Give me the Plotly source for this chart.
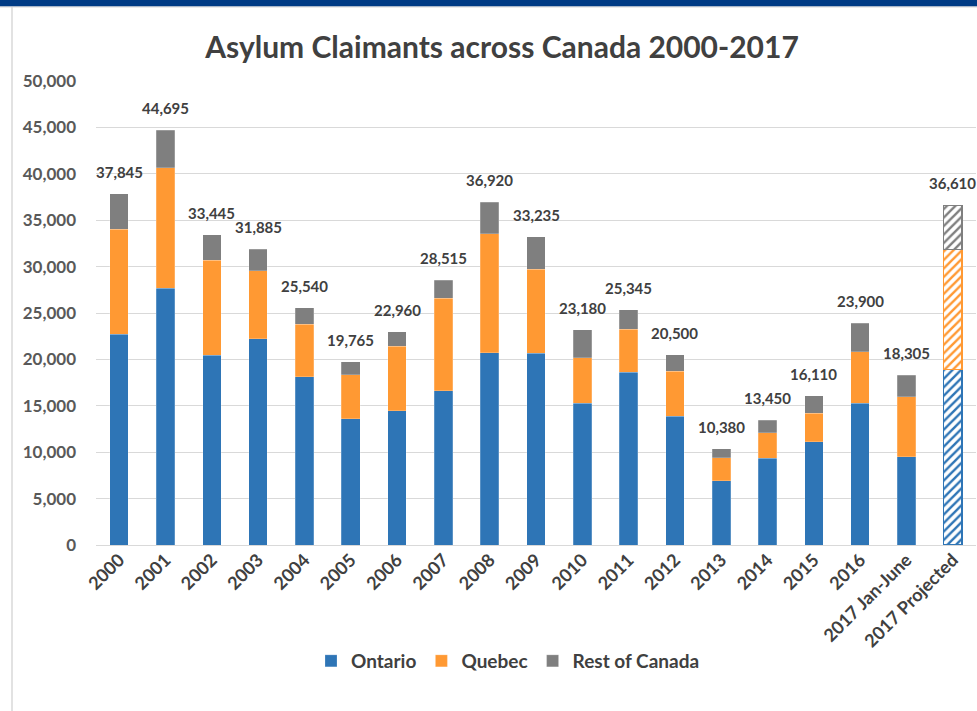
import plotly.graph_objects as go

categories = ["2000", "2001", "2002", "2003", "2004", "2005", "2006", "2007", "2008",
              "2009", "2010", "2011", "2012", "2013", "2014", "2015", "2016",
              "2017 Jan-June", "2017 Projected"]
ontario = [22700, 27660, 20470, 22230, 18140, 13580, 14470, 16630, 20720,
           20650, 15300, 18640, 13900, 6900, 9340, 11100, 15300, 9520, 18900]
quebec = [11350, 13000, 10240, 7330, 5640, 4740, 6940, 9950, 12830,
          9090, 4890, 4600, 4810, 2510, 2730, 3090, 5500, 6430, 12960]
rest_of_canada = [3795, 4035, 2735, 2325, 1760, 1445, 1550, 1935, 3370,
                  3495, 2990, 2105, 1790, 970, 1380, 1920, 3100, 2355, 4750]
totals = [37845, 44695, 33445, 31885, 25540, 19765, 22960, 28515, 36920,
          33235, 23180, 25345, 20500, 10380, 13450, 16110, 23900, 18305, 36610]
projected = [False] * 18 + [True]

FONT = "Lato"
TXT = "#404040"
series = [("Ontario", ontario, "#2E75B6"),
          ("Quebec", quebec, "#FF9933"),
          ("Rest of Canada", rest_of_canada, "#7F7F7F")]

W, H = 977, 711
ML, MR, MT, MB = 96, 1, 81, 166
PW, PH = W - ML - MR, H - MT - MB

fig = go.Figure()
for name, vals, col in series:
    fig.add_trace(go.Bar(
        name=name, x=categories, y=vals,
        marker=dict(
            color=col,
            line=dict(color=[col if p else "rgba(255,255,255,0.35)" for p in projected],
                      width=[1.3 if p else 0.6 for p in projected]),
            pattern=dict(shape=["/" if p else "" for p in projected],
                         fgcolor=col, bgcolor="#FFFFFF", size=6, solidity=0.4,
                         fillmode="replace"),
        ),
        hoverinfo="skip",
    ))

for i, t in enumerate(totals):
    fig.add_annotation(x=i, y=t, xref="x", yref="y", text=f"<b>{t:,}</b>",
                       showarrow=False, yanchor="bottom", yshift=11,
                       font=dict(family=FONT, size=15, color=TXT))

def py(p):
    return (H - MB - p) / PH

def px(p):
    return (p - ML) / PW

# top blue band, thin shadow and left frame line
fig.add_shape(type="rect", xref="paper", yref="paper", x0=px(-5), x1=px(W + 5),
              y0=py(7.5), y1=py(6.3), fillcolor="#D9D9D9", line_width=0, layer="above")
fig.add_shape(type="rect", xref="paper", yref="paper", x0=px(-5), x1=px(W + 5),
              y0=py(6.3), y1=py(-5), fillcolor="#003B85", line_width=0, layer="above")
fig.add_shape(type="line", xref="paper", yref="paper", x0=px(12), x1=px(12),
              y0=py(7), y1=py(H + 5), line=dict(color="#D9D9D9", width=1.5), layer="above")

fig.update_layout(
    width=W, height=H,
    margin=dict(l=ML, r=MR, t=MT, b=MB, autoexpand=False),
    paper_bgcolor="white", plot_bgcolor="white",
    barmode="stack", bargap=0.6,
    title=dict(text="Asylum Claimants across Canada 2000-2017",
               font=dict(family=FONT, size=30, color=TXT, weight="bold"),
               x=502 / W, xanchor="center", xref="container",
               y=1 - 47 / H, yanchor="middle", yref="container"),
    font=dict(family=FONT, color="#595959"),
    legend=dict(orientation="h", x=508 / W, xanchor="center", xref="container",
                y=1 - 661 / H, yanchor="middle", yref="container",
                font=dict(family=FONT, size=19, color=TXT, weight="bold"),
                traceorder="normal"),
    yaxis=dict(range=[0, 50000], dtick=5000, tickformat=",d", automargin=False,
               showgrid=True, gridcolor="#D9D9D9", gridwidth=1,
               zeroline=True, zerolinecolor="#D9D9D9", zerolinewidth=1,
               showline=False, ticks="", ticklabelstandoff=19,
               tickfont=dict(family=FONT, size=17, color="#595959", weight="bold")),
    xaxis=dict(type="category", range=[-0.5, len(categories) - 0.5], automargin=False,
               tickangle=-45, showline=False, ticks="",
               tickfont=dict(family=FONT, size=18, color="#404040", weight="bold")),
)

fig.write_html("out.html", config={"displayModeBar": False},
               post_script="document.body.style.margin='0';document.body.style.padding='0';")
